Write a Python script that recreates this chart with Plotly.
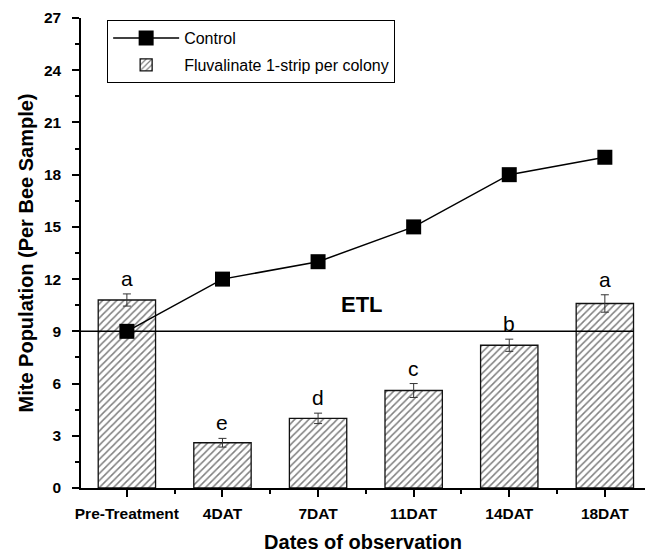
import plotly.graph_objects as go

categories = ["Pre-Treatment", "4DAT", "7DAT", "11DAT", "14DAT", "18DAT"]
control = [9, 12, 13, 15, 18, 19]
fluvalinate = [10.8, 2.6, 4.0, 5.6, 8.2, 10.6]
fluv_err = [0.35, 0.25, 0.3, 0.4, 0.35, 0.5]
letters = ["a", "e", "d", "c", "b", "a"]
etl_value = 9
y_ticks = [0, 3, 6, 9, 12, 15, 18, 21, 24, 27]

xpos = list(range(len(categories)))
FONT = "Arial, Liberation Sans, sans-serif"

fig = go.Figure()
fig.add_trace(go.Bar(
    x=xpos, y=fluvalinate, width=0.6,
    name="Fluvalinate 1-strip per colony", legendgroup="b", legendrank=2,
    marker=dict(color="white", line=dict(color="#111111", width=1.3),
                pattern=dict(shape="/", fgcolor="#000000", bgcolor="white", size=5, solidity=0.3)),
    error_y=dict(type="data", array=fluv_err, color="#333333", thickness=1, width=4),
))
fig.add_trace(go.Scatter(
    x=xpos, y=control, mode="lines+markers", name="Control", legendgroup="a", legendrank=1,
    line=dict(color="black", width=1.5),
    marker=dict(symbol="square", size=15, color="black"),
))

for xi, v, e, t in zip(xpos, fluvalinate, fluv_err, letters):
    fig.add_annotation(x=xi, y=v + e, text=t, showarrow=False, yanchor="bottom",
                       yshift=2, font=dict(family=FONT, size=21, color="black"))

fig.add_shape(type="line", x0=-0.48, x1=5.3, y0=etl_value, y1=etl_value,
              line=dict(color="black", width=1.5), layer="above")
fig.add_annotation(x=2.46, y=etl_value + 1.57, text="<b>ETL</b>", showarrow=False,
                   font=dict(family=FONT, size=22, color="black"))

fig.update_layout(
    width=645, height=553,
    margin=dict(l=81, r=0, t=18, b=65),
    plot_bgcolor="white", paper_bgcolor="white",
    font=dict(family=FONT, color="black"),
    showlegend=True,
    legend=dict(x=0.046, y=0.996, xanchor="left", yanchor="top",
                bordercolor="black", borderwidth=1.2, bgcolor="white",
                font=dict(family=FONT, size=16), traceorder="grouped",
                itemwidth=66, tracegroupgap=3),
    xaxis=dict(range=[-0.48, 5.42], tickmode="array", tickvals=xpos, ticktext=[f"<b>{c}</b>" for c in categories],
               showline=True, linecolor="black", linewidth=1.5, ticks="outside", ticklen=7,
               tickcolor="black", tickwidth=1.5, showgrid=False, zeroline=False,
               tickfont=dict(family=FONT, size=15.5), ticklabelstandoff=4,
               minor=dict(tickvals=[x + 0.5 for x in xpos[:-1]], ticks="outside", ticklen=4,
                          tickcolor="black", tickwidth=1.5),
               title=dict(text="<b>Dates of observation</b>", font=dict(family=FONT, size=20), standoff=14)),
    yaxis=dict(range=[0, 27], tickmode="array", tickvals=y_ticks, ticktext=[f"<b>{v}</b>" for v in y_ticks],
               showline=True, linecolor="black", linewidth=1.5, ticks="outside", ticklen=7,
               tickcolor="black", tickwidth=1.5, showgrid=False, zeroline=False,
               tickfont=dict(family=FONT, size=15.5), ticklabelstandoff=8,
               minor=dict(tickvals=[v + 1.5 for v in y_ticks[:-1]], ticks="outside", ticklen=4,
                          tickcolor="black", tickwidth=1.5),
               title=dict(text="<b>Mite Population (Per Bee Sample)</b>", font=dict(family=FONT, size=20), standoff=5)),
)

fig.write_html("out.html")
